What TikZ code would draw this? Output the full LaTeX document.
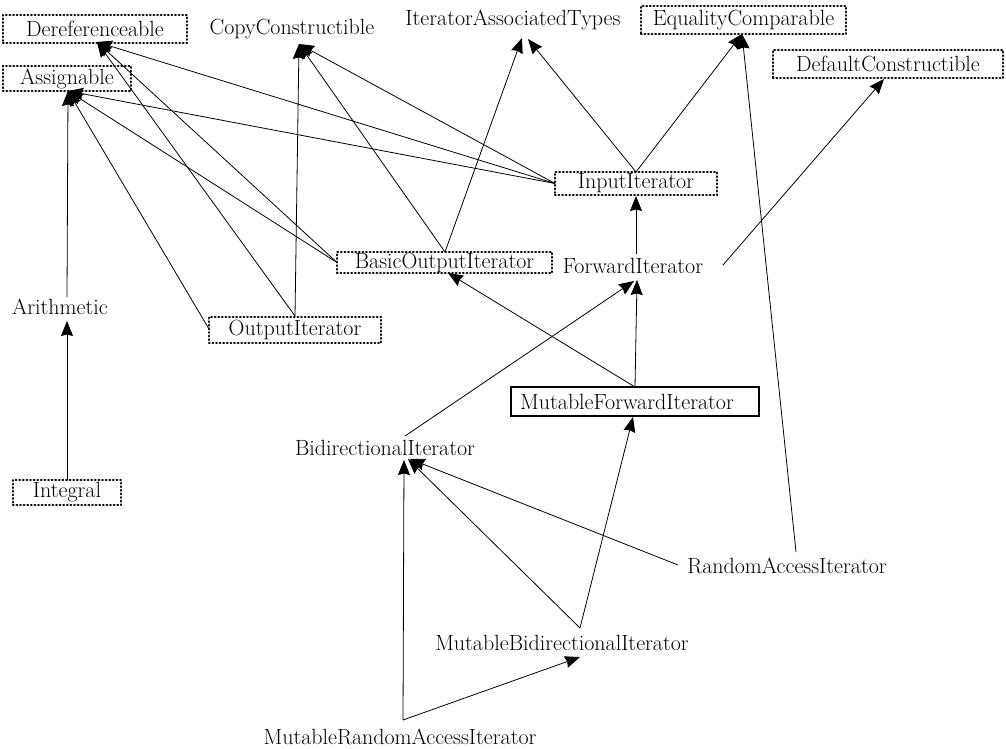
\documentclass[tikz,border=0pt]{standalone}
\usetikzlibrary{arrows.meta,calc}
\begin{document}
\begin{tikzpicture}[x=1pt,y=-1pt,
  every node/.style={font=\fontsize{22}{24}\selectfont, inner sep=0pt, anchor=center},
  dbox/.style={draw, line width=2.4pt, dash pattern=on 0.6pt off 3pt, line cap=round},
  sbox/.style={draw, line width=1.3pt},
  edge/.style={line width=0.8pt, -{Stealth[length=15pt,width=12pt,inset=1.5pt]}}]
\useasboundingbox (0,0) rectangle (1006,749);

% nodes
\node[dbox, minimum width=184pt, minimum height=28pt] (Deref) at (95,29) {Dereferenceable};
\node[dbox, minimum width=128pt, minimum height=25pt] (Assign) at (67,78.5) {Assignable};
\node (CC) at (292,29) {CopyConstructible};
\node (IAT) at (513,20) {IteratorAssociatedTypes};
\node[dbox, minimum width=205pt, minimum height=28pt] (EC) at (743.5,20) {EqualityComparable};
\node[dbox, minimum width=230pt, minimum height=28pt] (DC) at (888,64) {DefaultConstructible};
\node[dbox, minimum width=162pt, minimum height=23pt] (II) at (636,183.5) {InputIterator};
\node[dbox, minimum width=215pt, minimum height=21pt] (BOI) at (444.5,262.5) {BasicOutputIterator};
\node (FI) at (633,266) {ForwardIterator};
\node (Arith) at (60,307) {Arithmetic};
\node[dbox, minimum width=172pt, minimum height=26pt] (OI) at (295,330) {OutputIterator};
\node[dbox, minimum width=108pt, minimum height=25pt] (Integral) at (67,492.5) {Integral};
\node[sbox, minimum width=248pt, minimum height=29pt] (MFI) at (635,401.5) {MutableForwardIterator\hspace*{16pt}};
\node (BI) at (385,448) {BidirectionalIterator};
\node (RAI) at (787,566) {RandomAccessIterator};
\node (MBI) at (562,643) {MutableBidirectionalIterator};
\node (MRAI) at (400,737) {MutableRandomAccessIterator};

% edges
\draw[edge] ($(Integral)+(0,-12.5)$) -- ($(Arith)+(7,14)$);
\draw[edge] ($(Arith)+(7,-10)$) -- ($(Assign)+(1,12.5)$);
\draw[edge] ($(OI)+(-86,-1)$) -- ($(Assign)+(1,12.5)$);
\draw[edge] ($(OI)+(0,-14)$) -- ($(Deref)+(2,13)$);
\draw[edge] ($(OI)+(0,-14)$) -- ($(CC)+(7,15)$);
\draw[edge] ($(BOI)+(-107.5,0)$) -- ($(Assign)+(1,12.5)$);
\draw[edge] ($(BOI)+(-107.5,0)$) -- ($(Deref)+(2,13)$);
\draw[edge] ($(BOI)+(0.5,-10.5)$) -- ($(CC)+(7,15)$);
\draw[edge] ($(BOI)+(0.5,-10.5)$) -- ($(IAT)+(9,18)$);
\draw[edge] ($(II)+(-81,0)$) -- ($(Assign)+(1,12.5)$);
\draw[edge] ($(II)+(-81,0)$) -- ($(Deref)+(2,13)$);
\draw[edge] ($(II)+(-81,0)$) -- ($(CC)+(7,15)$);
\draw[edge] ($(II)+(0,-11.5)$) -- ($(IAT)+(15,19)$);
\draw[edge] ($(II)+(0,-11.5)$) -- ($(EC)+(-1.5,14)$);
\draw[edge] ($(FI)+(3,-12)$) -- ($(II)+(0,12.5)$);
\draw[edge] ($(FI)+(90,-1)$) -- ($(DC)+(-4,15)$);
\draw[edge] ($(MFI)+(0,-14.5)$) -- ($(FI)+(4,14)$);
\draw[edge] ($(MFI)+(0,-14.5)$) -- ($(BOI)+(3.5,10.5)$);
\draw[edge] ($(BI)+(20,-12)$) -- ($(FI)+(1,15)$);
\draw[edge] ($(RAI)+(-109,-1)$) -- ($(BI)+(25,11)$);
\draw[edge] ($(RAI)+(9,-14)$) -- ($(EC)+(-1.5,14)$);
\draw[edge] ($(MBI)+(18,-15)$) -- ($(BI)+(23,11)$);
\draw[edge] ($(MBI)+(18,-15)$) -- ($(MFI)+(-2,15.5)$);
\draw[edge] ($(MRAI)+(3,-17)$) -- ($(BI)+(19,12)$);
\draw[edge] ($(MRAI)+(3,-17)$) -- ($(MBI)+(18,14)$);
\end{tikzpicture}
\end{document}
